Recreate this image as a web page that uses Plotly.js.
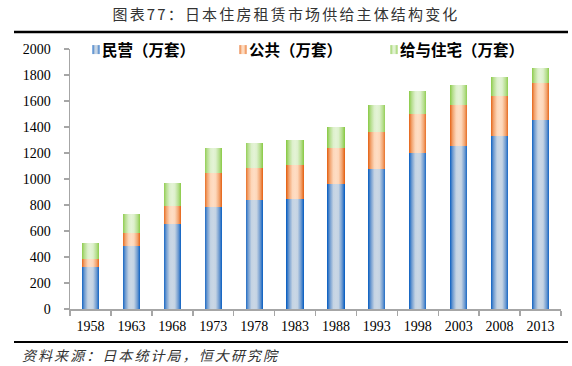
<!DOCTYPE html>
<html>
<head>
<meta charset="utf-8">
<script src="https://cdn.plot.ly/plotly-3.0.1.min.js"></script>
<style>
html,body{margin:0;padding:0;background:#fff;}
#chart{width:572px;height:366px;}
</style>
</head>
<body>
<div id="chart"></div>
<script>
const years = ['1958','1963','1968','1973','1978','1983','1988','1993','1998','2003','2008','2013'];
const privateUnits = [323,485,654,785,838,846,962,1077,1200,1254,1331,1454];
const publicUnits  = [62,100,138,261,247,262,276,285,300,315,307,284];
const issuedUnits  = [123,146,177,192,192,192,162,207,177,154,147,116];
const seriesNames = ['民营（万套）','公共（万套）','给与住宅（万套）'];
const yTicks = [0,200,400,600,800,1000,1200,1400,1600,1800,2000];

const cjk = '"Noto Sans CJK SC", "Noto Sans", sans-serif';
const serif = '"Liberation Serif", "DejaVu Serif", serif';

const colors = ['#2E75C8','#F07D2E','#9DD05E'];
const mk = (name, vals, i, lg) => ({
  type:'bar', x: years, y: vals, name: name, legend: lg,
  marker:{color: colors[i], line:{width:0}},
  hoverinfo:'skip'
});

const data = [
  mk(seriesNames[0], privateUnits, 0, 'legend'),
  mk(seriesNames[1], publicUnits, 1, 'legend2'),
  mk(seriesNames[2], issuedUnits, 2, 'legend3')
];

const L = 70, R = 11, T = 49, B = 57;
const W = 572 - L - R, H = 366 - T - B;
const px = x => (x - L) / W;
const py = y => (366 - B - y) / H;

const legBase = {orientation:'h', xanchor:'left', yanchor:'middle', y: py(50),
  font:{family: cjk, size:15.5, color:'#000', weight:'bold'}, bgcolor:'rgba(0,0,0,0)',
  itemwidth:30, tracegroupgap:0};

const layout = {
  width:572, height:366,
  margin:{l:L, r:R, t:T, b:B, pad:0},
  paper_bgcolor:'#fff', plot_bgcolor:'#fff',
  barmode:'stack', bargap:0.58,
  title:{text:'图表77：日本住房租赁市场供给主体结构变化', x:0.5, xref:'container', xanchor:'center',
    y: 1 - 15/366, yref:'container', yanchor:'middle',
    font:{family: cjk, size:15, color:'#333'}},
  xaxis:{type:'category', showgrid:false, showline:true, linecolor:'#A6A6A6', linewidth:1.5,
    ticks:'outside', tickson:'boundaries', ticklen:5, tickcolor:'#A6A6A6', tickwidth:1.5,
    tickfont:{family: serif, size:14, color:'#000'}, fixedrange:true, ticklabelstandoff:4},
  yaxis:{range:[0,2000], tickvals: yTicks, showgrid:false, showline:true, linecolor:'#A6A6A6', linewidth:1.5,
    ticks:'outside', ticklen:5, tickcolor:'#A6A6A6', tickwidth:1.5, zeroline:false,
    tickfont:{family: serif, size:14, color:'#000'}, ticklabelstandoff:10, fixedrange:true},
  showlegend:true,
  legend:  Object.assign({}, legBase, {x: px(62)}),
  legend2: Object.assign({}, legBase, {x: px(209)}),
  legend3: Object.assign({}, legBase, {x: px(360)}),
  shapes:[
    {type:'line', xref:'paper', yref:'paper', x0:px(14), x1:px(568), y0:py(32), y1:py(32), line:{color:'#000', width:2.5}},
    {type:'line', xref:'paper', yref:'paper', x0:px(14), x1:px(568), y0:py(342), y1:py(342), line:{color:'#000', width:2}}
  ],
  annotations:[
    {text:'<i>资料来源：日本统计局，恒大研究院</i>', xref:'paper', yref:'paper', x:px(22), y:py(355),
     xanchor:'left', yanchor:'middle', showarrow:false, font:{family: cjk, size:14, color:'#333'}}
  ]
};

function spreadText(el, targetWidth, nChars) {
  const r0 = el.getBoundingClientRect();
  const sp = Math.max(0, (targetWidth - r0.width) / nChars);
  el.style.letterSpacing = sp + 'px';
}
function shiftTo(el, left, center) {
  const r = el.getBoundingClientRect();
  const dx = center !== undefined ? center - (r.left + r.right) / 2 : left - r.left;
  const tr = el.getAttribute('transform') || '';
  el.setAttribute('transform', 'translate(' + dx + ',0) ' + tr);
}

Plotly.newPlot('chart', data, layout, {displayModeBar:false, staticPlot:true}).then(gd => {
  const svg = gd.querySelector('svg.main-svg');
  const ns = 'http://www.w3.org/2000/svg';
  let defs = svg.querySelector('defs');
  if (!defs) { defs = document.createElementNS(ns,'defs'); svg.insertBefore(defs, svg.firstChild); }
  const grads = [
    ['gBlue',  ['#0F62C2','#6F9BD0','#C4D3E3','#CAD7E5','#C4D3E3','#6F9BD0','#0F62C2']],
    ['gOrange',['#E5661A','#F2A470','#FDD7BA','#FEDDC4','#FDD7BA','#F2A470','#E5661A']],
    ['gGreen', ['#8CCB4A','#B6DE8E','#DDF0CC','#E4F3D6','#DDF0CC','#B6DE8E','#8CCB4A']]
  ];
  const offs = [0,0.15,0.35,0.5,0.65,0.85,1];
  grads.forEach(([id, cols]) => {
    const g = document.createElementNS(ns,'linearGradient');
    g.setAttribute('id', id); g.setAttribute('x1','0'); g.setAttribute('x2','1'); g.setAttribute('y1','0'); g.setAttribute('y2','0');
    cols.forEach((c, k) => {
      const s = document.createElementNS(ns,'stop'); s.setAttribute('offset', offs[k]); s.setAttribute('stop-color', c); g.appendChild(s);
    });
    defs.appendChild(g);
  });
  const traces = gd.querySelectorAll('.barlayer .trace');
  traces.forEach((t, i) => {
    t.querySelectorAll('path').forEach(p => { p.style.fill = 'url(#' + grads[i][0] + ')'; });
  });
  const legs = gd.querySelectorAll('.legendpoints path');
  legs.forEach(p => {
    const c = (p.style.fill || '').replace(/\s/g,'');
    let idx = -1;
    if (c.indexOf('46,117,200') >= 0) idx = 0;
    else if (c.indexOf('240,125,46') >= 0) idx = 1;
    else if (c.indexOf('157,208,94') >= 0) idx = 2;
    if (idx >= 0) { p.style.fill = 'url(#' + grads[idx][0] + ')'; p.setAttribute('d','M17.5,4.5H10.5V-4.5H17.5Z'); }
  });
  const title = gd.querySelector('.gtitle');
  if (title) { spreadText(title, 347, 21); shiftTo(title, null, 286); }
  const ann = gd.querySelector('.annotation-text');
  if (ann) { spreadText(ann, 259, 16); shiftTo(ann, 22); }
});
</script>
</body>
</html>
